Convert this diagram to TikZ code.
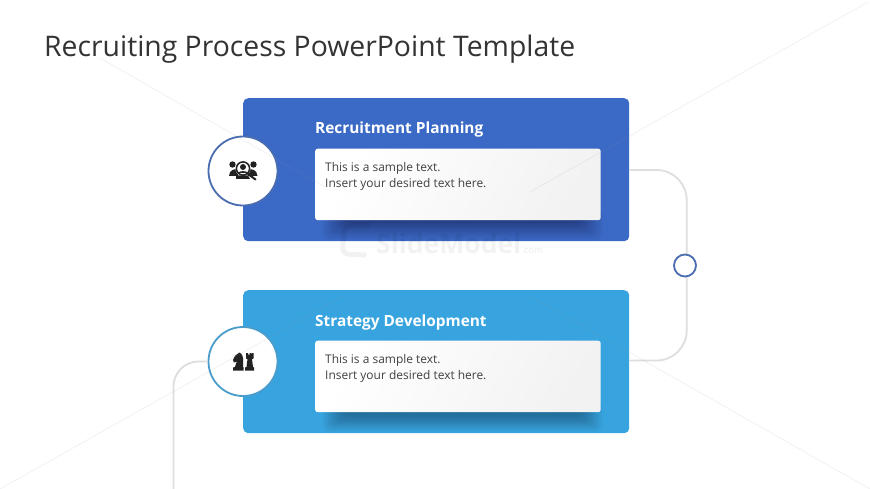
\documentclass[tikz,border=0pt]{standalone}
\usepackage{fontspec}
\setmainfont{Open Sans}
\usetikzlibrary{calc}
\definecolor{blueA}{HTML}{3B69C6}
\definecolor{blueB}{HTML}{38A4DF}
\definecolor{ringA}{HTML}{4A6DB0}
\definecolor{ringB}{HTML}{4A9CCB}
\definecolor{linkgray}{HTML}{DEDEDE}
\definecolor{inkgray}{HTML}{404040}
\definecolor{ttlgray}{HTML}{333333}
\definecolor{icon}{HTML}{222222}
\tikzset{
  x=1pt,y=-1pt,
  band/.style={minimum width=386pt,minimum height=143pt,rounded corners=5pt,inner sep=0pt,anchor=north west},
  card/.style={minimum width=285.5pt,minimum height=71.5pt,rounded corners=2.5pt,inner sep=0pt,anchor=north west,
    shade,left color=white,right color=white!95!black,shading angle=60},
  disc/.style={circle,fill=white,line width=1.8pt,minimum size=69pt,inner sep=0pt},
  dot/.style={circle,fill=white,draw=ringA,line width=1.8pt,minimum size=22pt,inner sep=0pt},
  link/.style={draw=linkgray,line width=1.8pt},
  head/.style={anchor=base west,inner sep=0pt,text=white,font=\bfseries\fontsize{15.4}{18}\selectfont},
  body/.style={anchor=north west,inner sep=0pt,align=left,text=inkgray,font=\fontsize{11.95}{15.8}\selectfont},
  ttl/.style={anchor=base west,inner sep=0pt,text=ttlgray,font=\fontsize{28.35}{32}\selectfont},
  wmark/.style={anchor=base west,inner sep=0pt,text=black,text opacity=0.05,font=\bfseries\fontsize{26.5}{28}\selectfont},
  bgline/.style={draw=black!40,line width=0.6pt,opacity=0.16},
}
\begin{document}
\begin{tikzpicture}
\useasboundingbox (0,0) rectangle (870,489);
\fill[white] (0,0) rectangle (870,489);
\coordinate (lt) at (173.5,489);
\node[ttl] (title) at (44,56.5) {Recruiting Process PowerPoint Template};
% connectors
\node[band,fill=blueA] (band1) at (243,98) {};
\node[band,fill=blueB] (band2) at (243,290) {};
\coordinate (e1) at (band1.north east |- 0,170);
\coordinate (e2) at (band2.north east |- 0,360.5);
\draw[link,rounded corners=30pt] (e1) -- (686.7,170) -- (686.7,360.5) -- (e2);
% shadows
\foreach \i in {0,...,19}{
  \fill[black,opacity=0.016,rounded corners=6pt] (322+\i*1.2,210) rectangle (603-\i*1.2,240-\i*0.9);
  \fill[black,opacity=0.016,rounded corners=6pt] (322+\i*1.2,402) rectangle (603-\i*1.2,432-\i*0.9);
}
\node[card] (card1) at (315,148.5) {};
\node[card] (card2) at (315,340.5) {};
\node[head] (h1) at (315,134) {Recruitment Planning};
\node[head] (h2) at (315,326) {Strategy Development};
\node[body] (t1) at (325,162) {This is a sample text.\\Insert your desired text here.};
\node[body] (t2) at (325,354) {This is a sample text.\\Insert your desired text here.};
\node[disc,draw=ringA] (c1) at (243,171) {};
\node[disc,draw=ringB] (c2) at (243,361.5) {};
\node[dot] (d1) at (685,265.5) {};
\draw[link,rounded corners=25pt] (c2.west) -- (173.5,361.5) -- (lt);
% icon 1: people and magnifier
\fill[icon] (232.5,164.5) circle (3.2);
\fill[icon] (253.5,164.5) circle (3.2);
\fill[icon] (229,176) .. controls (229,169.5) and (236,168) .. (238,170) -- (238,176) -- cycle;
\fill[icon] (257.5,176) .. controls (257.5,169.5) and (250,168) .. (248,170) -- (248,176) -- cycle;
\fill[white] (243,168.5) circle (7.6);
\draw[icon,line width=1.5pt] (243,168.5) circle (6.6);
\fill[icon] (243,167) circle (3);
\fill[icon] (238,173) .. controls (239,170.5) and (247,170.5) .. (248,173) -- cycle;
\fill[icon] (236,175.5) -- (248,175.5) -- (250,179) -- (236,179) -- cycle;
\draw[icon,line width=2pt,line cap=round] (248,174) -- (255.5,179.5);
% icon 2: knight and rook
\fill[icon] (233,370.5) -- (233,367.5) -- (235,367) .. controls (235.5,364) and (236.5,362.5) .. (237,361.5)
  -- (234,362.5) -- (233,360) .. controls (234.5,356) and (236,354.5) .. (238,353.5) -- (239,352.5)
  .. controls (242,353) and (243.5,357) .. (243,361) .. controls (243,364) and (243,365) .. (243,367) -- (243.5,367.5) -- (243.5,370.5) -- cycle;
\fill[icon] (245,370.5) -- (245,367.5) -- (246.5,367) -- (247.5,359) -- (246,358.5) -- (246,353) -- (248,353) -- (248,354.5) -- (249.5,354.5) -- (249.5,353) -- (251,353) -- (251,354.5) -- (252,353) -- (253.5,353) -- (253.5,358.5) -- (252,359) -- (253,367) -- (254,367.5) -- (254,370.5) -- cycle;
% faint background lines
\coordinate (bl1a) at (100,58); \coordinate (bl1b) at (325,187);
\coordinate (bl2a) at (868,2); \coordinate (bl2b) at (530,192);
\coordinate (bl3a) at (0,489); \coordinate (bl3b) at (345,295);
\coordinate (bl4a) at (530,296); \coordinate (bl4b) at (870,489);
\draw[bgline] (bl1a) -- (bl1b);
\draw[bgline] (bl2a) -- (bl2b);
\draw[bgline] (bl3a) -- (bl3b);
\draw[bgline] (bl4a) -- (bl4b);
% watermark
\node[wmark] (wm) at (376,253) {SlideModel\fontsize{9}{10}\selectfont .com};
\draw[black,opacity=0.05,line width=5pt,rounded corners=7pt] (370,225) -- (345,225) -- (342,254) -- (366,255);
\end{tikzpicture}
\end{document}
